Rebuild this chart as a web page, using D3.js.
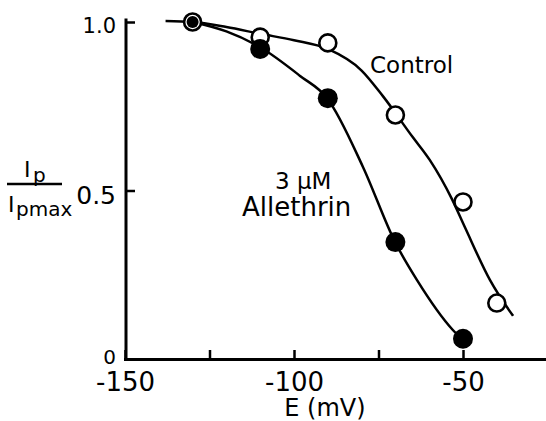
<!DOCTYPE html>
<html>
<head>
<meta charset="utf-8">
<script src="https://cdn.jsdelivr.net/npm/d3@7"></script>
<style>
  body { margin: 0; background: #fff; }
  svg { display: block; font-family: 'DejaVu Sans', sans-serif; }
</style>
</head>
<body>
<div id="root"></div>
<script>
// Measured points (membrane potential in mV, normalised peak current)
const controlE = [-130, -110, -90, -70, -50, -40];
const controlI = [1.0, 0.955, 0.938, 0.724, 0.466, 0.166];
const allethrinE = [-130, -110, -90, -70, -50];
const allethrinI = [1.0, 0.92, 0.774, 0.347, 0.06];

// Fitted curves
const controlCurveE = [-138, -130, -120, -110, -100, -90, -80, -73.7, -65, -59.8, -53.3, -49.4, -42, -35.2];
const controlCurveI = [1.003, 1.0, 0.985, 0.965, 0.946, 0.92, 0.856, 0.78, 0.66, 0.59, 0.475, 0.39, 0.234, 0.128];
const allethrinCurveE = [-130, -120, -110, -98.2, -90.2, -79.6, -70.1, -63.6, -53, -50];
const allethrinCurveI = [1.0, 0.972, 0.925, 0.84, 0.774, 0.57, 0.347, 0.234, 0.086, 0.056];

// Axes
const xTicks = [-150, -125, -100, -75, -50];
const xLabelled = [-150, -100, -50];
const yTicks = [0, 0.5, 1.0];
const yTickSize = { 0: 20, 0.5: 25, 1: 21 };
const yTickShift = { 0: -3, 0.5: 4, 1: 3 };

const width = 546;
const height = 421;

const svg = d3.select('#root')
    .append('svg')
    .attr('width', width)
    .attr('height', height);

const x = d3.scaleLinear().domain([-150, -25]).range([125, 547.5]);
const y = d3.scaleLinear().domain([0, 1]).range([359, 22]);

const zip = (a, b) => a.map((v, i) => [v, b[i]]);

// x axis
const xAxis = d3.axisBottom(x)
    .tickValues(xTicks)
    .tickSizeInner(-9)
    .tickSizeOuter(0)
    .tickPadding(14)
    .tickFormat(d => xLabelled.includes(d) ? String(d) : '');

const gx = svg.append('g')
    .attr('transform', `translate(0,${y(0)})`)
    .call(xAxis);
gx.select('.domain').attr('stroke-width', 3).attr('stroke-linecap', 'square');
gx.selectAll('.tick line').attr('stroke-width', 2.5);
gx.selectAll('.tick text')
    .attr('font-size', 26)
    .attr('font-family', 'DejaVu Sans')
    .attr('fill', '#000');

// y axis
const yAxis = d3.axisLeft(y)
    .tickValues(yTicks)
    .tickSizeInner(-9)
    .tickSizeOuter(0)
    .tickPadding(10)
    .tickFormat(d => d === 0 ? '0' : d.toFixed(1));

const gy = svg.append('g')
    .attr('transform', `translate(${x(-150) + 1},0)`)
    .call(yAxis);
gy.select('.domain')
    .attr('d', `M0,${y(0)}V${y(1) - 2}`)
    .attr('stroke-width', 3)
    .attr('stroke-linecap', 'square');
gy.selectAll('.tick line').attr('stroke-width', 2.5);
gy.selectAll('.tick text')
    .attr('font-size', d => yTickSize[d])
    .attr('font-family', 'DejaVu Sans')
    .attr('fill', '#000')
    .attr('dy', '0.36em')
    .attr('y', d => yTickShift[d]);

// axis titles
svg.append('text')
    .attr('x', 325)
    .attr('y', 416)
    .attr('text-anchor', 'middle')
    .attr('font-size', 24)
    .text('E (mV)');

const yLab = svg.append('g');
yLab.append('text')
    .attr('x', 24).attr('y', 177)
    .attr('font-size', 22)
    .text('I');
yLab.append('text')
    .attr('x', 33).attr('y', 182)
    .attr('font-size', 20)
    .text('p');
yLab.append('line')
    .attr('x1', 7).attr('x2', 62)
    .attr('y1', 184).attr('y2', 184)
    .attr('stroke', '#000')
    .attr('stroke-width', 2.5);
yLab.append('text')
    .attr('x', 8).attr('y', 212)
    .attr('font-size', 22)
    .text('I');
yLab.append('text')
    .attr('x', 16).attr('y', 216)
    .attr('font-size', 20)
    .text('pmax');

// curves
const line = d3.line()
    .x(d => x(d[0]))
    .y(d => y(d[1]))
    .curve(d3.curveMonotoneX);

svg.append('path')
    .datum(zip(controlCurveE, controlCurveI))
    .attr('d', line)
    .attr('fill', 'none')
    .attr('stroke', '#000')
    .attr('stroke-width', 2.5);

svg.append('path')
    .datum(zip(allethrinCurveE, allethrinCurveI))
    .attr('d', line)
    .attr('fill', 'none')
    .attr('stroke', '#000')
    .attr('stroke-width', 2.5);

// markers
svg.selectAll('circle.control')
    .data(zip(controlE, controlI))
    .enter()
    .append('circle')
    .attr('class', 'control')
    .attr('cx', d => x(d[0]))
    .attr('cy', d => y(d[1]))
    .attr('r', 8.5)
    .attr('fill', '#fff')
    .attr('stroke', '#000')
    .attr('stroke-width', 2.6);

svg.selectAll('circle.allethrin')
    .data(zip(allethrinE, allethrinI))
    .enter()
    .append('circle')
    .attr('class', 'allethrin')
    .attr('cx', d => x(d[0]))
    .attr('cy', d => y(d[1]))
    .attr('r', (d, i) => i === 0 ? 6 : 10)
    .attr('fill', '#000');

// labels
svg.append('text')
    .attr('x', 370).attr('y', 73)
    .attr('font-size', 23)
    .text('Control');
svg.append('text')
    .attr('x', 275).attr('y', 189)
    .attr('font-size', 23)
    .text('3 μM');
svg.append('text')
    .attr('x', 242).attr('y', 216)
    .attr('font-size', 26)
    .text('Allethrin');
</script>
</body>
</html>
